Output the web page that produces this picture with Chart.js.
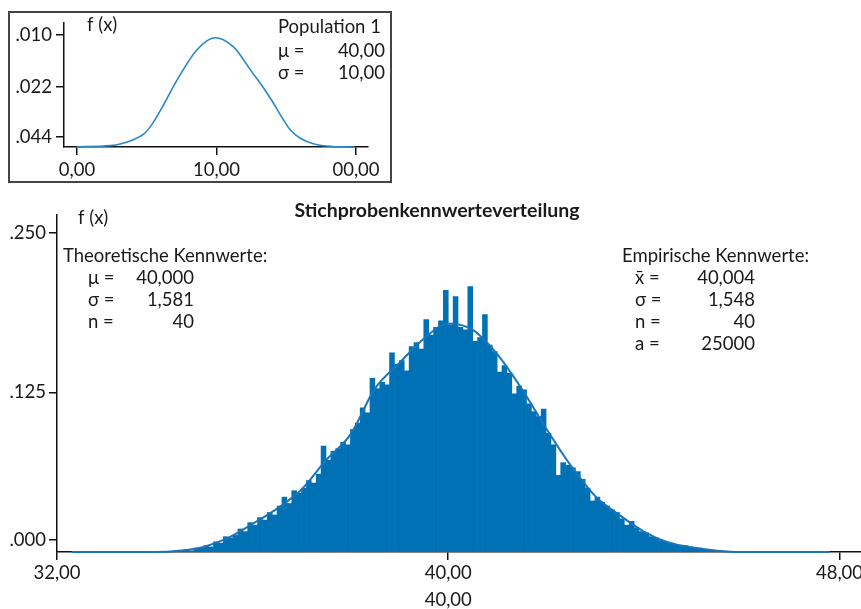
<!DOCTYPE html>
<html>
<head>
<meta charset="utf-8">
<script src="https://cdn.jsdelivr.net/npm/chart.js@4"></script>
<style>
    html, body { margin: 0; padding: 0; background: #fff; }
    #wrap { position: relative; width: 861px; height: 609px; }
    #main { position: absolute; left: 0; top: 0; }
    #insetBox { position: absolute; left: 8px; top: 11px; width: 380px; height: 168px; border: 2px solid #444; background: #fff; }
    #inset { display: block; }
</style>
</head>
<body>
<div id="wrap">
    <canvas id="main" width="861" height="609"></canvas>
    <div id="insetBox"><canvas id="inset" width="380" height="168"></canvas></div>
</div>
<script>
// Histogram (Stichprobenkennwerteverteilung), bins of 0.1 starting at 34.5
const binStart = 34.5;
const binWidth = 0.1;
const binHeights = [
    0.001, 0.002, 0.001, 0.003, 0.003, 0.005, 0.004, 0.008, 0.007, 0.012,
    0.011, 0.013, 0.018, 0.016, 0.023, 0.021, 0.027, 0.025, 0.031, 0.029,
    0.036, 0.043, 0.038, 0.048, 0.046, 0.050, 0.056, 0.054, 0.061, 0.083,
    0.072, 0.079, 0.081, 0.086, 0.084, 0.096, 0.101, 0.113, 0.109, 0.136,
    0.128, 0.133, 0.131, 0.156, 0.147, 0.150, 0.142, 0.161, 0.164, 0.159,
    0.182, 0.170, 0.176, 0.181, 0.205, 0.178, 0.200, 0.176, 0.174, 0.208,
    0.165, 0.168, 0.186, 0.162, 0.157, 0.141, 0.146, 0.140, 0.124, 0.130,
    0.127, 0.116, 0.110, 0.106, 0.112, 0.093, 0.084, 0.060, 0.070, 0.068,
    0.066, 0.063, 0.057, 0.050, 0.040, 0.043, 0.039, 0.036, 0.033, 0.031,
    0.026, 0.021, 0.024, 0.019, 0.016, 0.015, 0.012, 0.011, 0.009, 0.008,
    0.007, 0.006, 0.005, 0.005, 0.004, 0.003, 0.003, 0.002, 0.002, 0.001,
    0.001, 0.0005, 0.0005
];
const binCenters = binHeights.map((_, i) => +(binStart + binWidth * (i + 0.5)).toFixed(2));

// theoretical curve over the histogram
const curveX = [32.3, 34.0, 34.5, 35.0, 35.5, 36.0, 36.5, 37.0, 37.5, 38.0, 38.5, 39.0, 39.5, 40.0,
                40.5, 41.0, 41.5, 42.0, 42.5, 43.0, 43.5, 44.0, 44.5, 45.0, 45.5, 46.0, 47.8];
const curveY = [0, 0, 0.001, 0.004, 0.011, 0.022, 0.034, 0.049, 0.072, 0.092, 0.128, 0.148, 0.167, 0.179,
                0.174, 0.155, 0.128, 0.097, 0.068, 0.044, 0.029, 0.016, 0.0075, 0.0035, 0.001, 0, 0];

const xTicks = [32, 40, 48];
const xTickLabels = ['32,00', '40,00', '48,00'];
const xAxisTitle = '40,00';
const yTicks = [0.0094, 0.125, 0.25];
const yTickLabels = ['.000', '.125', '.250'];

const mainTitle = 'Stichprobenkennwerteverteilung';
const theoHeading = 'Theoretische Kennwerte:';
const theoLabels = ['\u03bc =', '\u03c3 =', 'n ='];
const theoValues = ['40,000', '1,581', '40'];
const empHeading = 'Empirische Kennwerte:';
const empLabels = ['x\u0304 =', '\u03c3 =', 'n =', 'a ='];
const empValues = ['40,004', '1,548', '40', '25000'];

// Inset: Population 1
const popX = [0, 2.4, 4.0, 4.8, 5.4, 6.0, 6.6, 7.2, 8.6, 9.9, 11.2, 12.6, 13.3, 14.0, 14.7, 15.3, 16.0, 17.0, 18.3, 19.9];
const popY = [0.0001, 0.0005, 0.0026, 0.0048, 0.0085, 0.0136, 0.0192, 0.0248, 0.0357, 0.0401, 0.0368, 0.0271,
              0.0222, 0.0168, 0.0108, 0.0062, 0.0032, 0.0011, 0.0002, 0];
const insetXTicks = [0, 10, 20];
const insetXTickLabels = ['0,00', '10,00', '00,00'];
const insetYTicks = [0.0411, 0.022, 0.0037];
const insetYTickLabels = ['.010', '.022', '.044'];
const popLabels = ['\u03bc =', '\u03c3 ='];
const popValues = ['40,00', '10,00'];

const FONT = 'Lato, "Open Sans", sans-serif';
const TEXT = '#1a1a1a';
const AXIS = '#111';

function axisStyle(ticks, labels, pad) {
    return {
        type: 'linear',
        offset: false,
        z: 1,
        afterBuildTicks: s => { s.ticks = ticks.map(v => ({ value: v })); },
        grid: { drawOnChartArea: false, drawTicks: true, tickLength: 8, color: AXIS, lineWidth: 1.5, offset: false },
        border: { color: AXIS, width: 1.5 },
        ticks: {
            callback: (v, i) => labels[i],
            font: { family: FONT, size: 18.5 },
            color: TEXT,
            padding: pad,
            maxRotation: 0,
            autoSkip: false
        }
    };
}

const mainText = {
    id: 'mainText',
    afterDraw(chart) {
        const { ctx, chartArea: a, scales: { x } } = chart;
        ctx.save();
        ctx.fillStyle = TEXT;
        ctx.textBaseline = 'middle';

        ctx.font = `bold 19.5px ${FONT}`;
        ctx.textAlign = 'center';
        ctx.fillText(mainTitle, a.left + 380, a.top - 4);

        ctx.font = `18.5px ${FONT}`;
        ctx.fillText(xAxisTitle, x.getPixelForValue(40), a.bottom + 48);

        ctx.textAlign = 'left';
        ctx.fillText('f (x)', a.left + 21, a.top + 3);
        ctx.fillText(theoHeading, a.left + 6, a.top + 41);
        ctx.fillText(empHeading, a.left + 565, a.top + 41);

        theoLabels.forEach((l, i) => {
            const y = a.top + 63 + 22 * i;
            ctx.textAlign = 'left';
            ctx.fillText(l, a.left + 31, y);
            ctx.textAlign = 'right';
            ctx.fillText(theoValues[i], a.left + 137, y);
        });
        empLabels.forEach((l, i) => {
            const y = a.top + 63 + 22 * i;
            ctx.textAlign = 'left';
            ctx.fillText(l, a.left + 578, y);
            ctx.textAlign = 'right';
            ctx.fillText(empValues[i], a.left + 698, y);
        });
        ctx.restore();
    }
};

const insetText = {
    id: 'insetText',
    afterDraw(chart) {
        const { ctx, chartArea: a } = chart;
        ctx.save();
        ctx.fillStyle = TEXT;
        ctx.textBaseline = 'middle';
        ctx.font = `18.5px ${FONT}`;
        ctx.textAlign = 'left';
        ctx.fillText('f (x)', a.left + 23, a.top + 2);
        ctx.fillText('Population 1', a.left + 214, a.top + 4);
        popLabels.forEach((l, i) => {
            const y = a.top + 28 + 22 * i;
            ctx.textAlign = 'left';
            ctx.fillText(l, a.left + 214, y);
            ctx.textAlign = 'right';
            ctx.fillText(popValues[i], a.left + 321, y);
        });
        ctx.restore();
    }
};

// Main chart
const mainX = axisStyle(xTicks, xTickLabels, 2);
mainX.min = 32; mainX.max = 48.44;
mainX.afterFit = s => { s.height = 57; s.paddingLeft = 0; s.paddingRight = 0; };
const mainY = axisStyle(yTicks, yTickLabels, 3);
mainY.min = 0; mainY.max = 0.264;
mainY.afterFit = s => { s.width = 57; s.paddingTop = 0; s.paddingBottom = 0; };

new Chart(document.getElementById('main'), {
    type: 'bar',
    data: {
        datasets: [
            {
                type: 'line',
                data: curveX.map((x, i) => ({ x, y: curveY[i] })),
                borderColor: '#1b74b9',
                borderWidth: 2,
                pointRadius: 0,
                cubicInterpolationMode: 'monotone',
                clip: 4,
                order: 0
            },
            {
                type: 'bar',
                data: binCenters.map((x, i) => ({ x, y: binHeights[i] })),
                backgroundColor: '#0071b5',
                borderWidth: 0,
                barPercentage: 1,
                categoryPercentage: 1,
                order: 1
            }
        ]
    },
    options: {
        responsive: false,
        animation: false,
        layout: { padding: { top: 215, left: 0, right: 0, bottom: 0 } },
        plugins: { legend: { display: false }, tooltip: { enabled: false } },
        scales: { x: mainX, y: mainY }
    },
    plugins: [mainText]
});

// Inset chart
const insetX = axisStyle(insetXTicks, insetXTickLabels, 4);
insetX.min = -0.93; insetX.max = 20.86;
insetX.afterFit = s => { s.height = 34; s.paddingLeft = 0; s.paddingRight = 0; };
const insetY = axisStyle(insetYTicks, insetYTickLabels, 4);
insetY.min = 0; insetY.max = 0.0455;
insetY.afterFit = s => { s.width = 54; s.paddingTop = 0; s.paddingBottom = 0; };

new Chart(document.getElementById('inset'), {
    type: 'line',
    data: {
        datasets: [{
            data: popX.map((x, i) => ({ x, y: popY[i] })),
            borderColor: '#2a87c8',
            borderWidth: 1.6,
            pointRadius: 0,
            cubicInterpolationMode: 'monotone',
            clip: 4
        }]
    },
    options: {
        responsive: false,
        animation: false,
        layout: { padding: { top: 10, left: 0, right: 22, bottom: 0 } },
        plugins: { legend: { display: false }, tooltip: { enabled: false } },
        scales: { x: insetX, y: insetY }
    },
    plugins: [insetText]
});
</script>
</body>
</html>
